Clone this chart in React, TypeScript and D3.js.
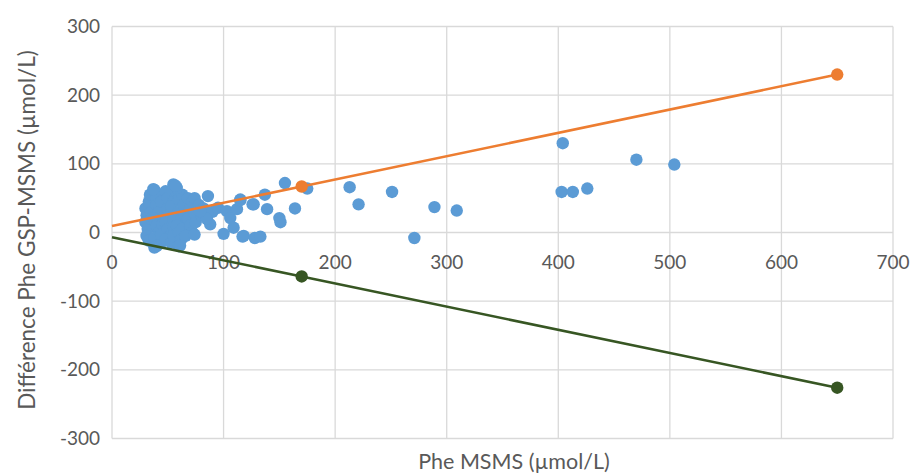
import React from "react";
import * as d3 from "d3";

const W = 914;
const H = 473;

const xTicks = [0, 100, 200, 300, 400, 500, 600, 700];
const yTicks = [-300, -200, -100, 0, 100, 200, 300];

const xTitle = "Phe MSMS (µmol/L)";
const yTitle = "Différence Phe GSP-MSMS (µmol/L)";

// Blue scatter: [Phe MSMS, difference]
const scatterX = [
  30, 31, 30, 32, 31, 33, 34, 33, 35, 35,
  38, 40, 40, 42, 38, 40, 42, 38, 40, 44, 45, 44, 46, 45, 44,
  48, 50, 50, 52, 48, 50, 52, 48, 55, 54, 55, 53, 55, 55, 53, 55,
  58, 60, 60, 62, 58, 60, 62, 60, 63, 64, 65, 63, 58,
  68, 70, 68, 70, 72, 74, 72, 75, 66, 74,
  78, 80, 82, 86, 88, 90, 85, 79, 74,
  95, 100, 103, 106, 109, 112, 115, 118, 127, 128,
  115, 126, 133, 137, 139, 150, 151, 155, 164, 175,
  117, 213, 221, 251, 271, 289, 309,
  403, 404, 413, 426, 470, 504,
  38, 61, 37, 57,
];
const scatterY = [
  35, 25, 15, 5, -5, 45, 55, -12, 30, 20,
  62, 50, 40, 30, 20, 10, 0, -8, -20, -15, 55, 45, 22, 12, -3,
  60, 50, 35, 25, 15, 5, -5, -10, 70, 62, 45, 38, 18, 8, -15, -5,
  58, 48, 30, 20, 10, 0, -10, -20, 55, 40, 25, 5, 65,
  50, 35, 20, 10, 45, 28, 0, 15, -5, 50,
  40, 25, 35, 53, 12, 30, 20, 31, -3,
  36, -2, 31, 21, 7, 34, 48, -5, 41, -8,
  47, 41, -6, 55, 34, 21, 15, 72, 35, 64,
  -6, 66, 41, 59, -8, 37, 32,
  59, 130, 59, 64, 106, 99,
  -22, -19, 63, 68,
];

// Limit lines
const upperX = [0, 170, 650];
const upperY = [9.5, 67, 230];
const lowerX = [0, 170, 650];
const lowerY = [-7, -64, -226];
const markerIdx = [1, 2];

const FONT = "Lato, 'Open Sans', sans-serif";
const TXT = "#595959";
const GRID = "#d9d9d9";

export default function App() {
  const x = d3.scaleLinear().domain([0, 700]).range([112, 893]);
  const y = d3.scaleLinear().domain([-300, 300]).range([438.5, 26.5]);

  const line = d3
    .line<[number, number]>()
    .x((d) => x(d[0]))
    .y((d) => y(d[1]));

  const upper = upperX.map((v, i) => [v, upperY[i]] as [number, number]);
  const lower = lowerX.map((v, i) => [v, lowerY[i]] as [number, number]);

  return (
    <svg
      width={W}
      height={H}
      style={{ position: "absolute", left: 0, top: 0, background: "#fff" }}
    >
      <rect width={W} height={H} fill="#fff" />
      {xTicks.map((t) => (
        <line key={"gx" + t} x1={x(t)} x2={x(t)} y1={y(300)} y2={y(-300)} stroke={GRID} strokeWidth={1.3} />
      ))}
      {yTicks.map((t) => (
        <line key={"gy" + t} x1={x(0)} x2={x(700)} y1={y(t)} y2={y(t)} stroke={GRID} strokeWidth={1.3} />
      ))}
      {yTicks.map((t) => (
        <text
          key={"ty" + t}
          x={100}
          y={y(t)}
          dy="0.35em"
          textAnchor="end"
          fontFamily={FONT}
          fontSize={19}
          fill={TXT}
        >
          {t}
        </text>
      ))}
      {xTicks.map((t) => (
        <text
          key={"tx" + t}
          x={x(t)}
          y={y(0) + 30}
          dy="0.35em"
          textAnchor="middle"
          fontFamily={FONT}
          fontSize={19}
          fill={TXT}
        >
          {t}
        </text>
      ))}
      {scatterX.map((v, i) => (
        <circle key={"p" + i} cx={x(v)} cy={y(scatterY[i])} r={6.2} fill="#5B9BD5" />
      ))}
      <path d={line(upper) || ""} fill="none" stroke="#ED7D31" strokeWidth={2.6} />
      {markerIdx.map((i) => (
        <circle key={"u" + i} cx={x(upperX[i])} cy={y(upperY[i])} r={6.2} fill="#ED7D31" />
      ))}
      <path d={line(lower) || ""} fill="none" stroke="#375623" strokeWidth={2.6} />
      {markerIdx.map((i) => (
        <circle key={"l" + i} cx={x(lowerX[i])} cy={y(lowerY[i])} r={6.2} fill="#375623" />
      ))}
      <text x={514} y={461} dy="0.35em" textAnchor="middle" fontFamily={FONT} fontSize={21.5} fill={TXT}>
        {xTitle}
      </text>
      <text
        transform={`translate(27,${230}) rotate(-90)`}
        dy="0.35em"
        textAnchor="middle"
        fontFamily={FONT}
        fontSize={22.5}
        fill={TXT}
      >
        {yTitle}
      </text>
    </svg>
  );
}
